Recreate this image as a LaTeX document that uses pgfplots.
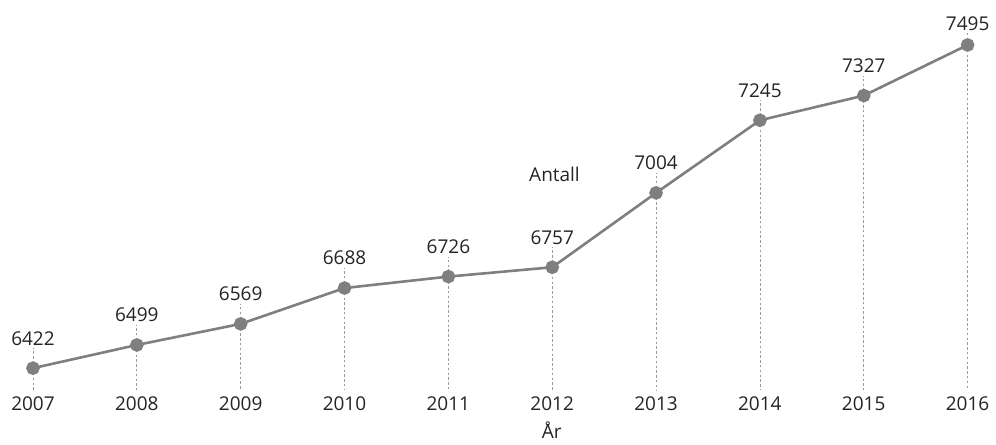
\documentclass[border=0pt]{standalone}
\usepackage{fontspec}
\setmainfont{Open Sans}
\usepackage{pgfplots}
\pgfplotsset{compat=1.18}
\usepackage{pgfplotstable}
\definecolor{linegray}{HTML}{7F7F7F}
\definecolor{dropgray}{HTML}{9A9A9A}
\definecolor{txt}{HTML}{252423}

% year, count, dotted line above point, dotted line below point, label shift (pt)
\pgfplotstableread{
year count up down ls
2007 6422 66 72 7.5
2008 6499 66 149 7.5
2009 6569 66 219 7.5
2010 6688 66 338 7.5
2011 6726 66 376 7.5
2012 6757 66 407 7.5
2013 7004 66 654 7.5
2014 7245 66 895 7.5
2015 7327 66 977 7.5
2016 7495 40 1145 3
}\antall

\begin{document}
\begin{tikzpicture}[font=\fontsize{9.5}{11.5}\selectfont, text=txt]
\begin{axis}[
  scale only axis,
  width=467.5pt, height=172.5pt,
  xmin=2007, xmax=2016,
  ymin=6350, ymax=7495,
  axis line style={draw=none},
  ytick=\empty,
  xtick={2007,...,2016},
  xticklabel={\pgfmathprintnumber[1000 sep=]{\tick}},
  xticklabel style={text=txt},
  major tick length=0pt,
  xlabel={År},
  xlabel style={text=txt, xshift=25.7pt, yshift=1.5pt},
  clip=false,
  /pgf/number format/assume math mode=true,
]
\addplot[draw=none, mark=none, forget plot,
  error bars/.cd, y dir=both, y explicit, error mark=none,
  error bar style={dropgray, dash pattern=on 1.2pt off 1.2pt, line width=0.4pt}]
  table[x=year, y=count, y error plus=up, y error minus=down] {\antall};
\addplot[linegray, line width=1.3pt, mark=*, mark size=2.75pt,
  mark options={fill=linegray, draw=linegray},
  visualization depends on={\thisrow{ls} \as \lshift},
  nodes near coords={\pgfmathprintnumber[1000 sep=]{\pgfplotspointmeta}},
  every node near coord/.append style={text=txt, anchor=south, yshift=\lshift pt}]
  table[x=year, y=count] {\antall};
\node[text=txt] at (rel axis cs:0.558,0.626) {Antall};
\end{axis}
\path (current axis.south west) ++(-16.5pt,-23pt) coordinate (bbl);
\path (current axis.north east) ++(14pt,22.5pt) coordinate (btr);
\useasboundingbox (bbl) rectangle (btr);
\end{tikzpicture}
\end{document}
